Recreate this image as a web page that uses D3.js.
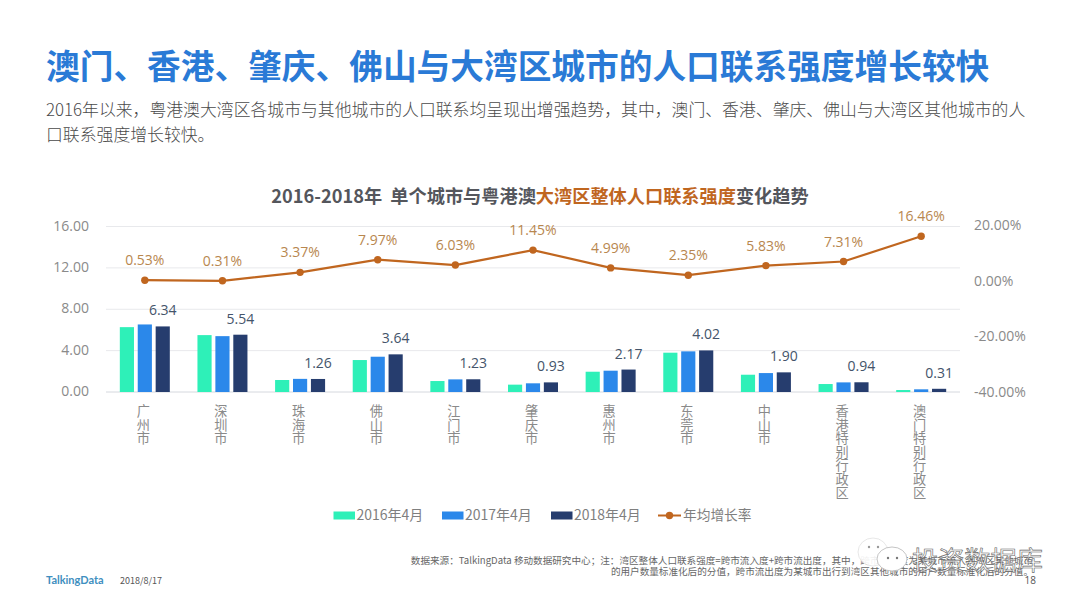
<!DOCTYPE html>
<html><head><meta charset="utf-8">
<script src="https://cdn.jsdelivr.net/npm/d3@7/dist/d3.min.js"></script>
<style>html,body{margin:0;padding:0;background:#fff}svg{display:block}text{font-family:"Noto Sans CJK SC","Open Sans",sans-serif;white-space:pre}.num{font-family:"Open Sans",sans-serif}</style>
</head><body><svg id="c" width="1080" height="608"></svg>
<script>
const cities=["广州市","深圳市","珠海市","佛山市","江门市","肇庆市","惠州市","东莞市","中山市","香港特别行政区","澳门特别行政区"];
const v2016=[6.27,5.50,1.16,3.09,1.06,0.71,1.96,3.80,1.67,0.77,0.19];
const v2017=[6.53,5.40,1.27,3.41,1.22,0.84,2.06,3.93,1.83,0.93,0.26];
const v2018=[6.34,5.54,1.26,3.64,1.23,0.93,2.17,4.02,1.90,0.94,0.31];
const growth=[0.53,0.31,3.37,7.97,6.03,11.45,4.99,2.35,5.83,7.31,16.46];
const leftTicks=[0,4,8,12,16];
const rightTicks=[-40,-20,0,20];
const seriesNames=["2016年4月","2017年4月","2018年4月"];
const lineName="年均增长率";
const colors=["#2EF0B8","#2B88EA","#263D6E"];
const lineColor="#C0661F";

const svg=d3.select("#c");
const x=d3.scaleBand().domain(cities).range([106,960]);
const yL=d3.scaleLinear().domain([0,16]).range([392,226.5]);
const yR=d3.scaleLinear().domain([-40,20]).range([392,226.5]);
const xs=d3.scaleBand().domain([0,1,2]).range([-25,25]).paddingInner(0.21);

// heading
svg.append("text").attr("x",46).attr("y",79).attr("font-size",33.7).attr("font-weight",700).attr("fill","#2A7AD6")
  .text("澳门、香港、肇庆、佛山与大湾区城市的人口联系强度增长较快");
const sub=["2016年以来，粤港澳大湾区各城市与其他城市的人口联系均呈现出增强趋势，其中，澳门、香港、肇庆、佛山与大湾区其他城市的人","口联系强度增长较快。"];
svg.selectAll("text.sub").data(sub).join("text").attr("class","sub").attr("x",46).attr("y",(d,i)=>116+i*25)
  .attr("font-size",16.85).attr("font-weight",300).attr("fill","#4A4A4A").text(d=>d);

// chart title
const t=svg.append("text").attr("x",540).attr("y",203).attr("text-anchor","middle").attr("font-size",18.2).attr("font-weight",700).attr("fill","#54565C");
t.append("tspan").text("2016-2018年  单个城市与粤港澳");
t.append("tspan").attr("fill","#C0661F").text("大湾区整体人口联系强度");
t.append("tspan").text("变化趋势");

// grid
svg.append("g").selectAll("line").data(leftTicks).join("line")
  .attr("x1",106).attr("x2",960).attr("y1",d=>yL(d)).attr("y2",d=>yL(d))
  .attr("stroke",d=>d===0?"#D5D8DE":"#E8E9EC").attr("stroke-width",1);

// axes
svg.append("g").selectAll("text").data(leftTicks).join("text").attr("class","num").attr("x",89).attr("y",d=>yL(d)+4)
  .attr("text-anchor","end").attr("font-size",14).attr("fill","#8A8A8A").text(d=>d.toFixed(2));
svg.append("g").selectAll("text").data(rightTicks).join("text").attr("class","num").attr("x",974).attr("y",d=>yR(d)+5-(d===20?1.5:d===0?0.5:d===-20?0.5:0))
  .attr("font-size",14).attr("fill","#8A8A8A").text(d=>d.toFixed(2)+"%");

// bars
[v2016,v2017,v2018].forEach((vals,s)=>{
  svg.append("g").selectAll("rect").data(vals).join("rect")
    .attr("x",(d,i)=>x(cities[i])+x.bandwidth()/2+xs(s)).attr("width",xs.bandwidth())
    .attr("y",d=>yL(d)).attr("height",d=>yL(0)-yL(d)).attr("fill",colors[s]);
});
// 2018 labels
svg.append("g").selectAll("text").data(v2018).join("text").attr("class","num")
  .attr("x",(d,i)=>x(cities[i])+x.bandwidth()/2+xs(2)+xs.bandwidth()/2).attr("y",d=>yL(d)-11)
  .attr("text-anchor","middle").attr("font-size",14).attr("fill","#44546A").text(d=>d.toFixed(2));

// line
const cx=(d,i)=>x(cities[i])+x.bandwidth()/2;
svg.append("path").datum(growth).attr("fill","none").attr("stroke",lineColor).attr("stroke-width",2.2)
  .attr("d",d3.line().x(cx).y(d=>yR(d)));
svg.append("g").selectAll("circle").data(growth).join("circle").attr("cx",cx).attr("cy",d=>yR(d)).attr("r",3.7).attr("fill",lineColor);
svg.append("g").selectAll("text").data(growth).join("text").attr("class","num").attr("x",cx).attr("y",d=>yR(d)-15)
  .attr("text-anchor","middle").attr("font-size",14).attr("fill","#B8874F").text(d=>d.toFixed(2)+"%");

// category labels, stacked vertically
svg.append("g").selectAll("text").data(cities).join("text")
  .attr("y",416).attr("text-anchor","middle").attr("font-size",13.2).attr("fill","#8A8A8A")
  .each(function(c){
    d3.select(this).selectAll("tspan").data(Array.from(c)).join("tspan")
      .attr("x",x(c)+x.bandwidth()/2-1.5).attr("dy",(d,i)=>i?13.6:0).text(d=>d);
  });

// legend
const lg=[{n:seriesNames[0],x:333.5},{n:seriesNames[1],x:442},{n:seriesNames[2],x:551}];
lg.forEach((l,i)=>{
  svg.append("rect").attr("x",l.x).attr("y",511.5).attr("width",21.5).attr("height",8).attr("fill",colors[i]);
  svg.append("text").attr("x",l.x+23).attr("y",520).attr("font-size",14).attr("fill","#7F7F7F").text(l.n);
});
svg.append("line").attr("x1",658).attr("x2",681).attr("y1",515.5).attr("y2",515.5).attr("stroke",lineColor).attr("stroke-width",2);
svg.append("circle").attr("cx",669.5).attr("cy",515.5).attr("r",3.7).attr("fill",lineColor);
svg.append("text").attr("x",683).attr("y",520).attr("font-size",13.7).attr("fill","#7F7F7F").text(lineName);

// footer
svg.append("text").attr("x",1033).attr("y",564).attr("text-anchor","end").attr("font-size",9.6).attr("fill","#666")
  .text("数据来源：TalkingData 移动数据研究中心；注：湾区整体人口联系强度=跨市流入度+跨市流出度，其中，跨市流入度为某城市流入到湾区其他城市");
svg.append("text").attr("x",1033).attr("y",574.5).attr("text-anchor","end").attr("font-size",9.6).attr("fill","#666")
  .text("的用户数量标准化后的分值，跨市流出度为某城市出行到湾区其他城市的用户数量标准化后的分值。");
svg.append("text").attr("x",46).attr("y",584).attr("font-size",11).attr("font-weight",700).style("font-family","Lato").attr("fill","#3F8FC0").text("TalkingData");
svg.append("text").attr("x",120).attr("y",584).attr("font-size",9).attr("fill","#555").text("2018/8/17");
svg.append("text").attr("class","num").attr("x",1036).attr("y",584).attr("text-anchor","end").attr("font-size",10).attr("fill","#555").text("18");

// watermark
const wm=svg.append("g");
wm.append("ellipse").attr("cx",873).attr("cy",552).attr("rx",15).attr("ry",14).attr("fill","#fff").attr("fill-opacity",0.9).attr("stroke","#ddd").attr("stroke-width",0.7);
wm.append("ellipse").attr("cx",892).attr("cy",559).attr("rx",15).attr("ry",12).attr("fill","#fff").attr("stroke","#aaa").attr("stroke-width",0.7);
wm.selectAll("circle.e").data([[869,547,"#999"],[878,547,"#999"],[888,558,"#777"],[897,558,"#777"]]).join("circle").attr("class","e")
  .attr("cx",d=>d[0]).attr("cy",d=>d[1]).attr("r",1.2).attr("fill",d=>d[2]);
wm.append("text").attr("x",912).attr("y",570).attr("font-size",26.2).attr("fill","#fff").attr("fill-opacity",0.5)
  .attr("stroke","#666").attr("stroke-width",0.6).text("投资数据库");
</script></body></html>
